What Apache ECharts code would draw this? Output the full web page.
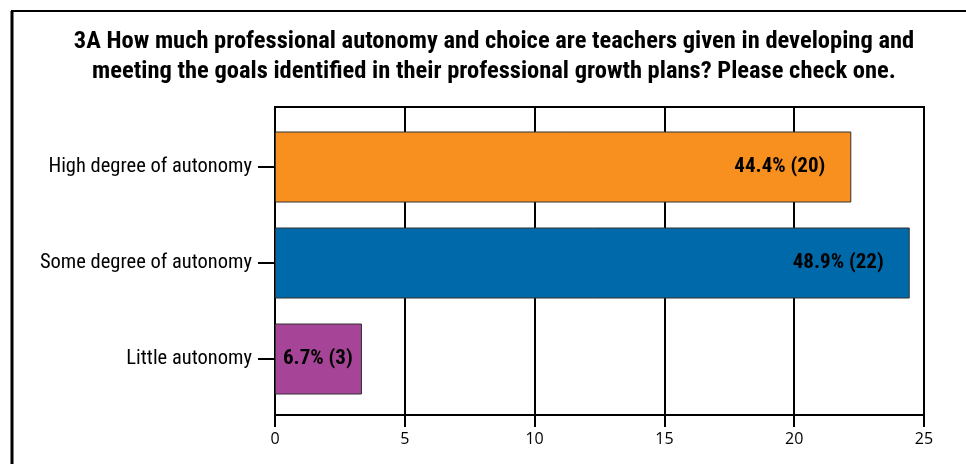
<!DOCTYPE html>
<html>
<head>
<meta charset="utf-8">
<title>3A Professional autonomy</title>
<script src="https://cdn.jsdelivr.net/npm/echarts@6/dist/echarts.min.js"></script>
<style>
  html, body { margin: 0; padding: 0; background: #fff; }
  #chart { width: 966px; height: 464px; }
</style>
</head>
<body>
<div id="chart"></div>
<script>
// Survey answers, top to bottom
const categories = ['High degree of autonomy', 'Some degree of autonomy', 'Little autonomy'];
// Share of respondents (%) and respondent counts
const percents = [44.4, 48.9, 6.7];
const counts = [20, 22, 3];
const barColors = ['#F7901E', '#0069AA', '#A64597'];
// Axis labels along the bottom (the axis runs 0–50 %, labelled in steps of 5)
const tickLabels = ['0', '5', '10', '15', '20', '25'];

const titleText = '3A How much professional autonomy and choice are teachers given in developing and\n' +
                  'meeting the goals identified in their professional growth plans? Please check one.';

const condensed = "'Liberation Sans Narrow', 'Arial Narrow', 'Roboto Condensed', sans-serif";

const chart = echarts.init(document.getElementById('chart'), null, { renderer: 'canvas' });

const barData = percents.map((p, i) => ({
  value: p,
  itemStyle: { color: barColors[i] },
  label: p < 10
    ? { position: 'insideLeft', distance: 8 }
    : { position: 'insideRight', distance: 26 }
}));

chart.setOption({
  animation: false,
  backgroundColor: '#fff',
  title: {
    text: titleText,
    left: 489,
    top: 22,
    textAlign: 'center',
    textStyle: {
      fontFamily: condensed,
      fontWeight: 'bold',
      fontSize: 24.5,
      lineHeight: 30,
      color: '#000'
    }
  },
  graphic: [
    { type: 'line', shape: { x1: 12, y1: 11, x2: 12, y2: 464 }, style: { stroke: '#000', lineWidth: 3 } },
    { type: 'line', shape: { x1: 11, y1: 11, x2: 966, y2: 11 }, style: { stroke: '#000', lineWidth: 2 } }
  ],
  grid: [
    // plot frame with the gridlines
    { left: 275, right: 42, top: 107, bottom: 49, show: true, borderColor: '#000', borderWidth: 2, backgroundColor: 'transparent' },
    // bars, inset slightly from the frame
    { left: 275, right: 42, top: 119, bottom: 57 }
  ],
  xAxis: [
    {
      gridIndex: 0, type: 'value', min: 0, max: 50, interval: 10,
      axisLine: { show: true, lineStyle: { color: '#000', width: 2 } },
      axisTick: { show: true, length: 12, lineStyle: { color: '#000', width: 2 } },
      axisLabel: {
        margin: 16, color: '#000', fontFamily: "'Open Sans', sans-serif", fontSize: 16,
        formatter: (v) => tickLabels[Math.round(v / 10)]
      },
      splitLine: { show: true, lineStyle: { color: '#000', width: 2 } }
    },
    {
      gridIndex: 1, type: 'value', min: 0, max: 50, interval: 10, show: false
    }
  ],
  yAxis: [
    { gridIndex: 0, type: 'value', show: false, min: 0, max: 1 },
    {
      gridIndex: 1, type: 'category', data: categories, inverse: true,
      axisLine: { show: false },
      axisTick: { show: true, alignWithLabel: true, length: 17, lineStyle: { color: '#000', width: 2 } },
      axisLabel: { margin: 23, color: '#000', fontFamily: condensed, fontSize: 20.5 },
      splitLine: { show: false }
    }
  ],
  series: [{
    type: 'bar',
    xAxisIndex: 1,
    yAxisIndex: 1,
    data: barData,
    barWidth: 71,
    itemStyle: { borderColor: '#333', borderWidth: 1 },
    label: {
      show: true,
      color: '#000',
      fontFamily: condensed,
      fontWeight: 'bold',
      fontSize: 21,
      formatter: (p) => p.value.toFixed(1) + '% (' + counts[p.dataIndex] + ')'
    },
    z: 3
  }]
});
</script>
</body>
</html>
